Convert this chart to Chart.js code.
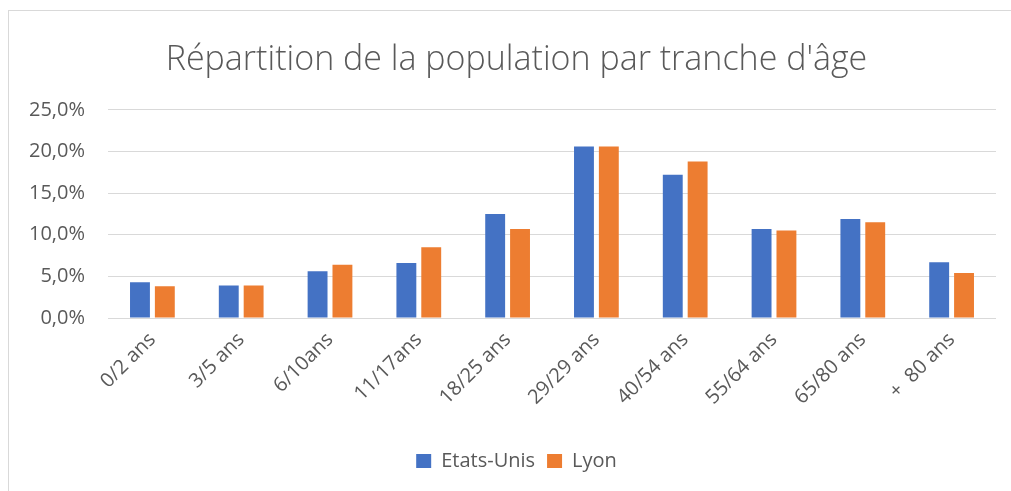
<!DOCTYPE html>
<html>
<head>
<meta charset="utf-8">
<script src="https://cdn.jsdelivr.net/npm/chart.js@4/dist/chart.umd.min.js"></script>
<style>
    html, body { margin: 0; padding: 0; background: #fff; overflow: hidden; }
    #box {
        position: absolute; left: 8px; top: 10px;
        width: 1002px; height: 480px;
        border: 1px solid #d9d9d9;
    }
</style>
</head>
<body>
<div id="box"><canvas id="popChart"></canvas></div>
<script>
// age groups and share of population (%)
const categories = ['0/2 ans', '3/5 ans', '6/10ans', '11/17ans', '18/25 ans', '29/29 ans', '40/54 ans', '55/64 ans', '65/80 ans', '+  80 ans'];
const etatsUnis = [4.3, 3.9, 5.6, 6.6, 12.5, 20.6, 17.2, 10.7, 11.9, 6.7];
const lyon = [3.8, 3.9, 6.4, 8.5, 10.7, 20.6, 18.8, 10.5, 11.5, 5.4];
const yTicks = [0, 5, 10, 15, 20, 25];

// Excel centres title and legend a bit right of the canvas middle
const nudgeRight = {
    id: 'nudgeRight',
    afterLayout(chart) {
        [chart.titleBlock, chart.legend].forEach(function(box) {
            if (box) { box.left += 14; box.right += 14; }
        });
    }
};

document.addEventListener('DOMContentLoaded', function() {
    const ctx = document.getElementById('popChart').getContext('2d');
    const textColor = '#595959';
    const font = 'Open Sans, sans-serif';

    new Chart(ctx, {
        type: 'bar',
        data: {
            labels: categories,
            datasets: [
                {
                    label: 'Etats-Unis',
                    data: etatsUnis,
                    backgroundColor: '#4472C4',
                    categoryPercentage: 0.56,
                    barPercentage: 0.8
                },
                {
                    label: 'Lyon',
                    data: lyon,
                    backgroundColor: '#ED7D31',
                    categoryPercentage: 0.56,
                    barPercentage: 0.8
                }
            ]
        },
        plugins: [nudgeRight],
        options: {
            responsive: true,
            maintainAspectRatio: false,
            animation: false,
            layout: { padding: { left: 0, right: 15, top: 0, bottom: 10 } },
            plugins: {
                title: {
                    display: true,
                    text: "Répartition de la population par tranche d'âge",
                    color: textColor,
                    font: { family: font, size: 34, weight: '300' },
                    padding: { top: 29, bottom: 29 }
                },
                legend: {
                    position: 'bottom',
                    labels: {
                        color: textColor,
                        font: { family: font, size: 20 },
                        boxWidth: 15,
                        boxHeight: 14,
                        padding: 12
                    }
                },
                tooltip: { enabled: false }
            },
            scales: {
                x: {
                    grid: { display: false },
                    border: { display: false },
                    ticks: {
                        color: textColor,
                        font: { family: font, size: 20 },
                        minRotation: 45,
                        maxRotation: 45,
                        padding: 2
                    },
                    afterFit: function(scale) { scale.height = 121; }
                },
                y: {
                    min: 0,
                    max: 25,
                    grid: { color: '#d9d9d9', lineWidth: 1, drawTicks: false },
                    border: { display: false },
                    afterBuildTicks: function(scale) {
                        scale.ticks = yTicks.map(v => ({ value: v }));
                    },
                    ticks: {
                        color: textColor,
                        font: { family: font, size: 20 },
                        padding: 23,
                        callback: v => v.toFixed(1).replace('.', ',') + '%'
                    },
                    afterFit: function(scale) { scale.width = 99; }
                }
            }
        }
    });
});
</script>
</body>
</html>
